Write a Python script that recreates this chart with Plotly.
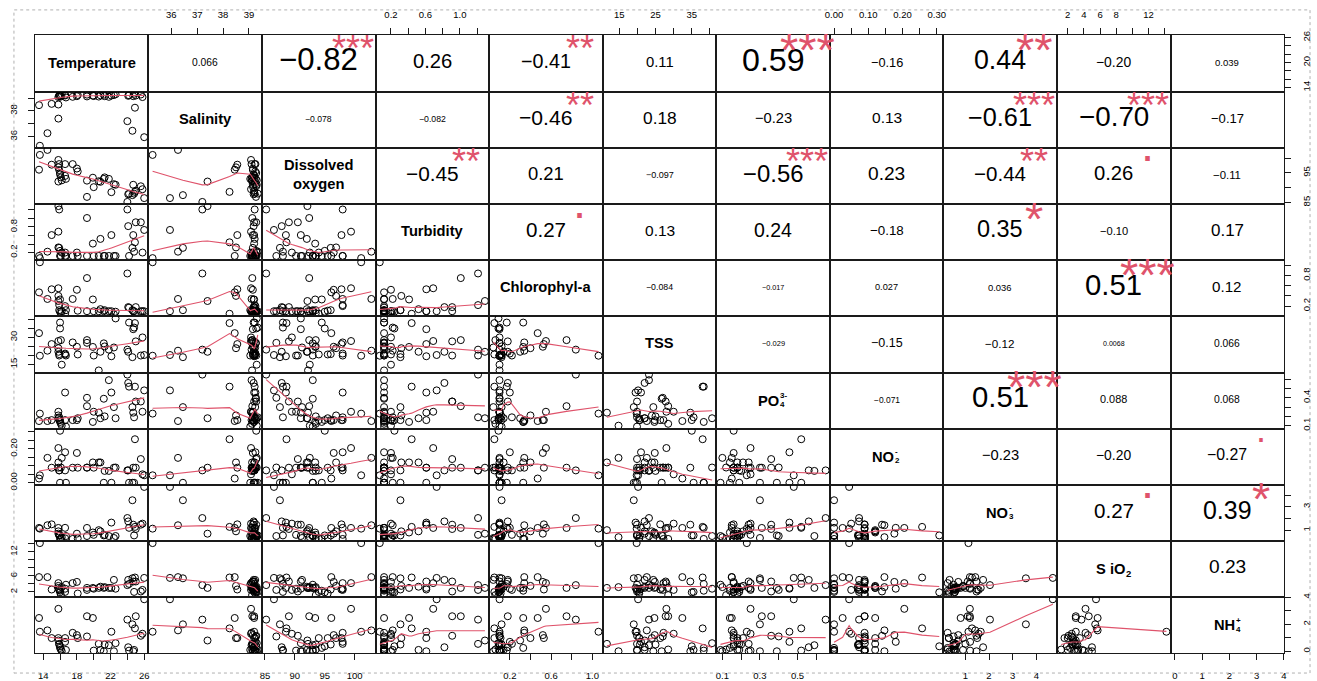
import numpy as np
import plotly.graph_objects as go

# ---------------- data (one value per observation) ----------------
temperature = [13.5, 13.6, 14.5, 15.0, 15.8, 15.8, 15.8, 15.9, 15.9, 16.0, 16.0, 16.1, 16.2, 16.6, 16.6, 16.7,
               17.5, 18.0, 18.1, 19.2, 19.2, 19.9, 20.0, 20.6, 20.8, 21.2, 21.3, 21.8, 22.1, 22.4, 22.6,
               24.0, 24.1, 24.2, 24.6, 24.7, 24.8, 24.9, 25.0, 25.6, 25.8, 26.0]
salinity = [38.45, 35.28, 36.26, 38.55, 39.08, 38.50, 37.40, 39.22, 39.15, 39.28, 39.18, 39.12, 39.30, 39.25,
            39.20, 39.05, 39.10, 39.15, 39.24, 39.13, 39.27, 39.20, 39.16, 39.12, 39.22, 39.26, 39.15, 39.10,
            39.20, 39.24, 39.30, 37.20, 39.18, 39.22, 36.45, 39.15, 39.34, 38.25, 39.20, 39.28, 39.08, 35.95]
dissolved_oxygen = [96.1, 101.1, 102.8, 97.8, 99.4, 96.9, 92.1, 98.0, 96.0, 95.0, 94.5, 93.5, 92.5, 98.0, 94.0,
                    93.0, 98.0, 96.5, 95.5, 92.4, 86.9, 93.4, 90.2, 92.2, 92.0, 93.0, 93.5, 93.0, 88.5, 91.2,
                    91.0, 85.2, 87.8, 88.0, 87.5, 91.0, 88.0, 88.6, 89.0, 90.5, 89.5, 86.5]
turbidity = [0.12, 0.07, 0.22, 0.61, 0.69, 0.32, 1.29, 1.21, 0.31, 0.24, 0.12, 0.12, 0.20, 0.12, 0.20, 0.12,
             0.12, 0.20, 0.12, 1.01, 0.12, 0.41, 0.12, 0.12, 0.52, 0.12, 0.12, 0.12, 0.61, 0.12, 0.12, 1.21,
             0.82, 0.12, 0.31, 0.61, 0.22, 0.44, 0.91, 0.91, 0.20, 0.73]
chlorophyll_a = [0.47, 1.06, 0.34, 0.53, 0.55, 0.40, 0.30, 0.22, 0.12, 0.09, 0.33, 0.06, 0.10, 0.20, 0.05, 0.12,
                 0.34, 0.52, 0.11, 0.75, 0.10, 0.33, 0.10, 0.10, 0.14, 0.10, 0.12, 0.10, 0.10, 0.04, 0.09, 0.84,
                 0.18, 0.17, 0.12, 0.10, 0.10, 0.05, 0.18, 0.10, 0.10, 0.10]
tss = [32.4, 19.8, 22.6, 26.3, 28.0, 24.0, 22.0, 19.9, 20.7, 35.0, 38.3, 28.5, 14.8, 21.0, 20.5, 19.9, 27.2,
       24.8, 20.5, 28.5, 27.0, 24.7, 19.9, 11.6, 22.0, 26.7, 25.0, 23.2, 19.5, 24.4, 40.6, 23.2, 22.0, 38.3,
       19.0, 34.6, 35.5, 38.0, 27.8, 19.9, 30.0, 20.2]
po4 = [0.15, 0.23, 0.15, 0.16, 0.25, 0.21, 0.18, 0.19, 0.16, 0.16, 0.14, 0.12, 0.10, 0.457, 0.16, 0.09, 0.16,
       0.16, 0.18, 0.31, 0.40, 0.14, 0.25, 0.24, 0.18, 0.39, 0.20, 0.59, 0.457, 0.30, 0.18, 0.65, 0.56, 0.52,
       0.30, 0.24, 0.19, 0.52, 0.36, 0.36, 0.25, 0.48]
no2 = [0.025, 0.044, 0.147, 0.089, 0.205, 0.12, 0.089, 0.073, 0.073, 0.307, 0.0, 0.09, 0.147, 0.18, 0.073, 0.0,
       0.089, 0.176, 0.089, 0.089, 0.09, 0.12, 0.089, 0.12, 0.12, 0.0, 0.07, 0.07, 0.0, 0.089, 0.09, 0.073,
       0.073, 0.0, 0.0, 0.089, 0.0, 0.257, 0.089, 0.14, 0.05, 0.044]
no3 = [1.19, 1.13, 1.42, 1.5, 1.19, 0.90, 0.70, 0.60, 0.55, 0.55, 0.25, 0.25, 0.40, 1.20, 0.30, 0.50, 0.25,
       0.70, 0.30, 1.19, 0.50, 0.80, 0.60, 1.00, 0.90, 0.55, 0.60, 0.50, 1.65, 0.33, 0.50, 2.04, 1.75, 1.20,
       3.56, 1.47, 0.55, 1.28, 1.10, 1.47, 1.56, 4.70]
sio2 = [5.7, 14.2, 5.7, 2.6, 4.2, 3.5, 3.0, 2.5, 2.6, 1.9, 2.3, 1.2, 3.2, 2.8, 2.0, 3.8, 4.2, 4.5, 1.6, 3.0,
        2.5, 3.0, 2.8, 3.0, 3.3, 3.0, 3.2, 3.0, 3.0, 5.0, 2.8, 3.7, 5.0, 4.0, 5.4, 4.6, 2.0, 5.6, 4.6, 2.1,
        2.5, 5.5]
nh4 = [2.47, 1.45, 1.55, 0.98, 3.15, 0.98, 0.80, 0.55, 0.50, 0.37, 0.25, 0.13, 0.0, 0.70, 0.98, 0.10, 1.37,
       1.20, 0.98, 2.60, 1.10, 2.47, 0.05, 0.55, 0.10, 0.0, 0.50, 0.45, 1.45, 0.0, 0.60, 2.35, 0.30, 0.05,
       2.00, 0.0, 0.10, 1.70, 2.60, 1.15, 1.30, 3.86]

variables = [temperature, salinity, dissolved_oxygen, turbidity, chlorophyll_a, tss, po4, no2, no3, sio2, nh4]

# diagonal labels: (main text, superscript, subscript)
diag_labels = [("Temperature", None, None), ("Salinity", None, None), ("Dissolved<br>oxygen", None, None),
               ("Turbidity", None, None), ("Chlorophyl-a", None, None), ("TSS", None, None),
               ("PO", "3-", "4"), ("NO", "-", "2"), ("NO", "-", "3"), ("S iO", None, "2"), ("NH", "+", "4")]

# correlation coefficients (upper panels) and significance codes
upper_r = [
    ["0.066", "−0.82", "0.26", "−0.41", "0.11", "0.59", "−0.16", "0.44", "−0.20", "0.039"],
    ["−0.078", "−0.082", "−0.46", "0.18", "−0.23", "0.13", "−0.61", "−0.70", "−0.17"],
    ["−0.45", "0.21", "−0.097", "−0.56", "0.23", "−0.44", "0.26", "−0.11"],
    ["0.27", "0.13", "0.24", "−0.18", "0.35", "−0.10", "0.17"],
    ["−0.084", "−0.017", "0.027", "0.036", "0.51", "0.12"],
    ["−0.029", "−0.15", "−0.12", "0.0068", "0.066"],
    ["−0.071", "0.51", "0.088", "0.068"],
    ["−0.23", "−0.20", "−0.27"],
    ["0.27", "0.39"],
    ["0.23"],
]
upper_sig = [
    ["", "***", "", "**", "", "***", "", "**", "", ""],
    ["", "", "**", "", "", "", "***", "***", ""],
    ["**", "", "", "***", "", "**", ".", ""],
    [".", "", "", "", "*", "", ""],
    ["", "", "", "", "***", ""],
    ["", "", "", "", ""],
    ["", "***", "", ""],
    ["", "", "."],
    [".", "*"],
    [""],
]

# tick positions and labels
tick_vals = [
    [14, 16, 18, 20, 22, 24, 26],
    [36, 37, 38, 39],
    [85, 90, 95, 100],
    [0.2, 0.4, 0.6, 0.8, 1.0, 1.2],
    [0.2, 0.4, 0.6, 0.8, 1.0],
    [15, 20, 25, 30, 35, 40],
    [0.1, 0.2, 0.3, 0.4, 0.5, 0.6],
    [0.0, 0.05, 0.10, 0.15, 0.20, 0.25, 0.30],
    [1, 2, 3, 4],
    [2, 4, 6, 8, 10, 12, 14],
    [0, 1, 2, 3, 4],
]
x_tick_text = [
    ["14", "", "18", "", "22", "", "26"],
    ["36", "37", "38", "39"],
    ["85", "90", "95", "100"],
    ["0.2", "", "0.6", "", "1.0", ""],
    ["0.2", "", "0.6", "", "1.0"],
    ["15", "", "25", "", "35", ""],
    ["0.1", "", "0.3", "", "0.5", ""],
    ["0.00", "", "0.10", "", "0.20", "", "0.30"],
    ["1", "2", "3", "4"],
    ["2", "4", "6", "8", "", "12", ""],
    ["0", "1", "2", "3", "4"],
]
y_tick_text = [
    ["14", "", "", "20", "", "", "26"],
    ["36", "", "38", ""],
    ["85", "", "95", ""],
    ["0.2", "", "", "0.8", "", ""],
    ["0.2", "", "", "0.8", ""],
    ["15", "", "", "30", "", ""],
    ["0.1", "", "", "0.4", "", ""],
    ["0.00", "", "", "", "0.20", "", ""],
    ["1", "", "3", ""],
    ["2", "", "6", "", "", "12", ""],
    ["0", "", "2", "", "4"],
]


# ---------------- helpers ----------------
def lowess(x, y, f=2 / 3, iters=3):
    x = np.asarray(x, float)
    y = np.asarray(y, float)
    o = np.argsort(x, kind="stable")
    x = x[o]
    y = y[o]
    n = len(x)
    ns = max(min(int(f * n + 1e-7), n), 2)
    rng = x[-1] - x[0]
    rw = np.ones(n)
    ys = np.zeros(n)
    for it in range(iters + 1):
        nleft, nright = 0, ns - 1
        for i in range(n):
            while nright < n - 1 and (x[i] - x[nleft]) > (x[nright + 1] - x[i]):
                nleft += 1
                nright += 1
            h = max(x[i] - x[nleft], x[nright] - x[i])
            d = np.abs(x - x[i])
            w = np.zeros(n)
            if h > 0:
                m = d <= 0.999 * h
                w[m] = np.where(d[m] <= 0.001 * h, 1.0, (1 - (d[m] / h) ** 3) ** 3)
            else:
                w[d == 0] = 1.0
            w = w * rw
            s = w.sum()
            if s <= 0:
                ys[i] = y[i]
                continue
            w = w / s
            if h > 0:
                a = np.sum(w * x)
                b = x[i] - a
                c = np.sum(w * (x - a) ** 2)
                if np.sqrt(c) > 0.001 * rng:
                    b = b / c
                    w = w * (b * (x - a) + 1.0)
            ys[i] = np.sum(w * y)
        if it == iters:
            break
        res = y - ys
        cmad = 6 * np.median(np.abs(res))
        if cmad < 1e-7 * np.mean(np.abs(y)):
            break
        r = np.abs(res)
        rw = np.where(r <= 0.001 * cmad, 1.0, np.where(r <= 0.999 * cmad, (1 - (r / cmad) ** 2) ** 2, 0.0))
    return x, ys


CW = {"0": .556, "1": .556, "2": .556, "3": .556, "4": .556, "5": .556, "6": .556, "7": .556,
      "8": .556, "9": .556, ".": .278, "−": .584, "-": .333}


def em_width(s):
    return sum(CW.get(c, .556) for c in s)


# ---------------- layout geometry ----------------
W, H = 1317, 681
X0, X1 = 30.0, 1287.0
Y0, Y1 = 31.0, 659.0
N = len(variables)
PW = (X1 - X0) / N
PH = (Y1 - Y0) / N
FONT = "Liberation Sans, Arial, Helvetica, sans-serif"
RED = "#DF536B"
TICKFONT = dict(family=FONT, size=9.5, color="black")
TICKSTYLE = dict(ticks="outside", ticklen=6, tickcolor="#1a1a1a", tickwidth=1, showticklabels=True,
                 tickfont=TICKFONT, ticklabelstandoff=7)


def var_range(v):
    lo, hi = min(v), max(v)
    d = hi - lo
    return [lo - 0.04 * d, hi + 0.04 * d]


ranges = [var_range(v) for v in variables]

fig = go.Figure()
layout = dict(width=W, height=H, margin=dict(l=0, r=0, t=0, b=0), paper_bgcolor="white",
              plot_bgcolor="white", showlegend=False)
annotations = []

for i in range(N):
    for j in range(N):
        k = i * N + j + 1
        xs = "" if k == 1 else str(k)
        xd = [(X0 + j * PW) / W, (X0 + (j + 1) * PW) / W]
        yd = [1 - (Y0 + (i + 1) * PH) / H, 1 - (Y0 + i * PH) / H]
        xa = dict(domain=xd, range=ranges[j], anchor="y" + xs, showgrid=False, zeroline=False,
                  showline=True, mirror=True, linecolor="#1a1a1a", linewidth=1, ticks="",
                  showticklabels=False, fixedrange=True)
        ya = dict(domain=yd, range=ranges[i], anchor="x" + xs, showgrid=False, zeroline=False,
                  showline=True, mirror=True, linecolor="#1a1a1a", linewidth=1, ticks="",
                  showticklabels=False, fixedrange=True)
        if i == 0 and j % 2 == 1:
            xa.update(side="top", tickvals=tick_vals[j], ticktext=x_tick_text[j], **TICKSTYLE)
        if i == N - 1 and j % 2 == 0:
            xa.update(side="bottom", tickvals=tick_vals[j], ticktext=x_tick_text[j], **TICKSTYLE)
        if j == 0 and i % 2 == 1:
            ya.update(side="left", tickvals=tick_vals[i], ticktext=y_tick_text[i], tickangle=-90, **TICKSTYLE)
        if j == N - 1 and i % 2 == 0:
            ya.update(side="right", tickvals=tick_vals[i], ticktext=y_tick_text[i], tickangle=-90, **TICKSTYLE)
        layout["xaxis" + xs] = xa
        layout["yaxis" + xs] = ya
        xref = "x" + xs + " domain"
        yref = "y" + xs + " domain"

        if i > j:
            # lower panel: scatter + lowess smooth
            fig.add_trace(go.Scatter(x=variables[j], y=variables[i], xaxis="x" + xs, yaxis="y" + xs,
                                     mode="markers", hoverinfo="skip",
                                     marker=dict(symbol="circle-open", size=7, color="black",
                                                 line=dict(width=1, color="black"))))
            lx, ly = lowess(variables[j], variables[i])
            fig.add_trace(go.Scatter(x=lx, y=ly, xaxis="x" + xs, yaxis="y" + xs, mode="lines",
                                     hoverinfo="skip", line=dict(color=RED, width=1.1)))
            continue

        # empty trace so the (text-only) panel box and its axes are drawn
        fig.add_trace(go.Scatter(x=[None], y=[None], xaxis="x" + xs, yaxis="y" + xs, mode="markers",
                                 hoverinfo="skip", marker=dict(opacity=0)))
        if i == j:
            main, sup, sub = diag_labels[i]
            fs = 14.7
            if sup is None and sub is None:
                annotations.append(dict(x=0.5, y=0.5, xref=xref, yref=yref, text="<b>%s</b>" % main,
                                        showarrow=False, xanchor="center", yanchor="middle", yshift=1,
                                        font=dict(family=FONT, size=fs, color="black")))
            else:
                bw = {"P": .667, "O": .778, "N": .722, "H": .722, "S": .667, "i": .278, " ": .278}
                main_w = sum(bw.get(c, .6) for c in main) * fs
                sfs = 8.0 if sup is not None else 9.5
                st = [s for s in (sup, sub) if s]
                stack_w = max(em_width(s) for s in st) * sfs
                shift = (main_w - stack_w) / 2
                annotations.append(dict(x=0.5, y=0.5, xref=xref, yref=yref, text="<b>%s</b>" % main,
                                        showarrow=False, xanchor="right", yanchor="middle", xshift=shift,
                                        borderpad=0, font=dict(family=FONT, size=fs, color="black")))
                if sup:
                    annotations.append(dict(x=0.5, y=0.5, xref=xref, yref=yref, text="<b>%s</b>" % sup,
                                            showarrow=False, xanchor="left", yanchor="middle",
                                            xshift=shift - 1, yshift=5, borderpad=0,
                                            font=dict(family=FONT, size=sfs, color="black")))
                if sub:
                    annotations.append(dict(x=0.5, y=0.5, xref=xref, yref=yref, text="<b>%s</b>" % sub,
                                            showarrow=False, xanchor="left", yanchor="middle",
                                            xshift=shift - 1, yshift=-4, borderpad=0,
                                            font=dict(family=FONT, size=sfs, color="black")))
        else:
            txt = upper_r[i][j - i - 1]
            sig = upper_sig[i][j - i - 1]
            r = abs(float(txt.replace("−", "-")))
            base = 0.8 * PW / em_width(txt)
            fs = base * (r + 0.3) / 1.3
            annotations.append(dict(x=0.5, y=0.5, xref=xref, yref=yref, text=txt, showarrow=False,
                                    xanchor="center", yanchor="middle", yshift=0.12 * fs,
                                    font=dict(family=FONT, size=fs, color="black")))
            if sig:
                ysh = -0.06 * base if sig != "." else 0.30 * base
                annotations.append(dict(x=0.8, y=0.8, xref=xref, yref=yref, text=sig, showarrow=False,
                                        xanchor="center", yanchor="middle", yshift=ysh,
                                        font=dict(family=FONT, size=base, color=RED)))

layout["annotations"] = annotations
layout["shapes"] = [dict(type="rect", xref="paper", yref="paper", x0=9 / W, x1=1313 / W, y0=1 - 679 / H,
                         y1=1 - 5 / H, line=dict(color="#b0b0b0", width=1, dash="dot"))]
fig.update_layout(**layout)
fig.write_html("out.html")
